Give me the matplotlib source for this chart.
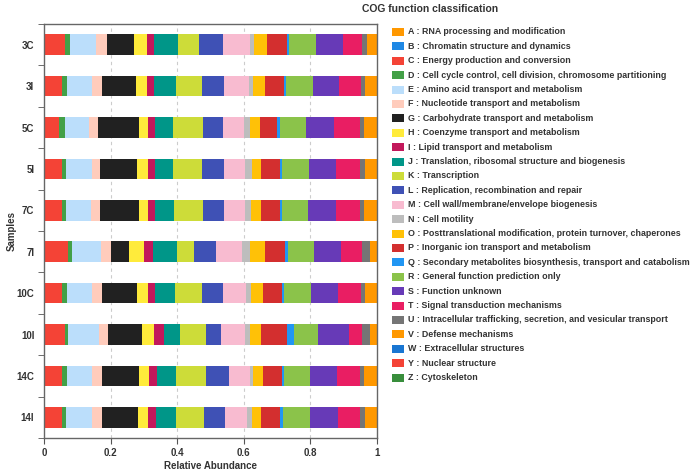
import matplotlib
matplotlib.use("Agg")
import matplotlib.pyplot as plt
from matplotlib.patches import Rectangle
import numpy as np

plt.rcParams['font.family'] = ['Liberation Sans', 'DejaVu Sans']

samples = ['3C', '3I', '5C', '5I', '7C', '7I', '10C', '10I', '14C', '14I']

# relative abundance of each COG class per sample
A = [0.0, 0.0, 0.0, 0.0, 0.0, 0.0, 0.0, 0.0, 0.0, 0.0]
B = [0.0, 0.0, 0.0, 0.0, 0.0, 0.0, 0.0, 0.0, 0.0, 0.0]
C = [0.063, 0.053, 0.046, 0.053, 0.053, 0.073, 0.055, 0.063, 0.053, 0.054]
D = [0.016, 0.015, 0.017, 0.014, 0.013, 0.012, 0.014, 0.009, 0.015, 0.013]
E = [0.077, 0.075, 0.071, 0.076, 0.075, 0.085, 0.076, 0.094, 0.077, 0.078]
F = [0.032, 0.030, 0.027, 0.026, 0.027, 0.030, 0.029, 0.025, 0.030, 0.028]
G = [0.083, 0.103, 0.124, 0.110, 0.116, 0.056, 0.105, 0.104, 0.110, 0.110]
H = [0.037, 0.032, 0.028, 0.032, 0.029, 0.045, 0.032, 0.036, 0.030, 0.028]
I = [0.022, 0.022, 0.021, 0.021, 0.021, 0.027, 0.022, 0.028, 0.023, 0.025]
J = [0.072, 0.066, 0.052, 0.056, 0.057, 0.072, 0.060, 0.049, 0.058, 0.060]
K = [0.064, 0.078, 0.092, 0.087, 0.087, 0.050, 0.081, 0.077, 0.090, 0.084]
L = [0.071, 0.067, 0.059, 0.066, 0.063, 0.068, 0.063, 0.048, 0.069, 0.064]
M = [0.081, 0.075, 0.063, 0.064, 0.063, 0.078, 0.070, 0.070, 0.063, 0.067]
N = [0.013, 0.012, 0.018, 0.019, 0.019, 0.024, 0.016, 0.015, 0.010, 0.013]
O = [0.038, 0.035, 0.030, 0.029, 0.028, 0.045, 0.035, 0.035, 0.030, 0.029]
P = [0.060, 0.057, 0.053, 0.055, 0.057, 0.059, 0.057, 0.077, 0.058, 0.057]
Q = [0.007, 0.008, 0.008, 0.008, 0.006, 0.009, 0.006, 0.020, 0.005, 0.008]
R = [0.082, 0.080, 0.079, 0.080, 0.080, 0.077, 0.080, 0.073, 0.078, 0.082]
S = [0.080, 0.078, 0.082, 0.082, 0.082, 0.083, 0.082, 0.092, 0.082, 0.083]
T = [0.057, 0.065, 0.078, 0.072, 0.074, 0.062, 0.068, 0.041, 0.067, 0.067]
U = [0.015, 0.014, 0.012, 0.013, 0.011, 0.024, 0.014, 0.024, 0.012, 0.013]
V = [0.030, 0.035, 0.040, 0.037, 0.039, 0.021, 0.035, 0.020, 0.040, 0.037]
W = [0.0, 0.0, 0.0, 0.0, 0.0, 0.0, 0.0, 0.0, 0.0, 0.0]
Y = [0.0, 0.0, 0.0, 0.0, 0.0, 0.0, 0.0, 0.0, 0.0, 0.0]
Z = [0.0, 0.0, 0.0, 0.0, 0.0, 0.0, 0.0, 0.0, 0.0, 0.0]

cog_values = [A, B, C, D, E, F, G, H, I, J, K, L, M, N, O, P, Q, R, S, T, U, V, W, Y, Z]

cog_labels = [
    'A : RNA processing and modification',
    'B : Chromatin structure and dynamics',
    'C : Energy production and conversion',
    'D : Cell cycle control, cell division, chromosome partitioning',
    'E : Amino acid transport and metabolism',
    'F : Nucleotide transport and metabolism',
    'G : Carbohydrate transport and metabolism',
    'H : Coenzyme transport and metabolism',
    'I : Lipid transport and metabolism',
    'J : Translation, ribosomal structure and biogenesis',
    'K : Transcription',
    'L : Replication, recombination and repair',
    'M : Cell wall/membrane/envelope biogenesis',
    'N : Cell motility',
    'O : Posttranslational modification, protein turnover, chaperones',
    'P : Inorganic ion transport and metabolism',
    'Q : Secondary metabolites biosynthesis, transport and catabolism',
    'R : General function prediction only',
    'S : Function unknown',
    'T : Signal transduction mechanisms',
    'U : Intracellular trafficking, secretion, and vesicular transport',
    'V : Defense mechanisms',
    'W : Extracellular structures',
    'Y : Nuclear structure',
    'Z : Cytoskeleton',
]

cog_colors = ['#FF9800', '#1E88E5', '#F44336', '#43A047', '#BBDEFB', '#FFCCBC',
              '#212121', '#FFEB3B', '#C2185B', '#009688', '#CDDC39', '#3F51B5',
              '#F8BBD0', '#BDBDBD', '#FFC107', '#D32F2F', '#2196F3', '#8BC34A',
              '#673AB7', '#E91E63', '#757575', '#FF9800', '#1976D2', '#F44336',
              '#388E3C']

fig = plt.figure(figsize=(6.96, 4.71), dpi=100)
ax = fig.add_axes([44 / 696, 33 / 471, 333 / 696, 414 / 471])

ypos = np.arange(len(samples))
left = np.zeros(len(samples))
for vals, col in zip(cog_values, cog_colors):
    vals = np.array(vals)
    ax.barh(ypos, vals, left=left, height=0.5, color=col, linewidth=0, zorder=2)
    left += vals

ax.set_xlim(0, 1)
ax.set_ylim(len(samples) - 0.5, -0.5)
ax.set_xticks([0, 0.2, 0.4, 0.6, 0.8, 1])
ax.set_xticklabels(['0', '0.2', '0.4', '0.6', '0.8', '1'], fontsize=7, fontweight='bold', color='#333333')
ax.set_yticks(ypos)
ax.set_yticklabels(samples, fontsize=7, fontweight='bold', color='#333333')
ax.set_yticks(np.arange(len(samples) + 1) - 0.5, minor=True)
ax.tick_params(axis='y', which='major', length=0, pad=7)
ax.tick_params(axis='y', which='minor', length=4, color='#555555')
ax.tick_params(axis='x', length=4, color='#555555', pad=3)

for x in [0.2, 0.4, 0.6, 0.8]:
    ax.axvline(x, color='#cccccc', linestyle=(0, (3, 3)), linewidth=0.8, zorder=1)

for sp in ax.spines.values():
    sp.set_color('#666666')
    sp.set_linewidth(1)

ax.set_xlabel('Relative Abundance', fontsize=7, fontweight='bold', color='#333333')
ax.xaxis.set_label_coords(0.5, -(461 - 438) / 414)

fig.text(12 / 696, 1 - 231 / 471, 'Samples', fontsize=7, fontweight='bold',
         color='#333333', rotation=90, ha='center', va='center')
fig.text(430 / 696, 1 - 9 / 471, 'COG function classification', fontsize=7.5,
         fontweight='bold', color='#333333', ha='center', va='center')

# legend drawn by hand to match the spacing of the original
W_px, H_px = 696, 471
for i, (lab, col) in enumerate(zip(cog_labels, cog_colors)):
    yc = 32 + i * 14.4
    fig.add_artist(Rectangle((392.5 / W_px, 1 - (yc + 4) / H_px), 12 / W_px, 8 / H_px,
                             transform=fig.transFigure, facecolor=col, edgecolor='none'))
    fig.text(408 / W_px, 1 - yc / H_px, lab, fontsize=6.4, fontweight='bold',
             color='#333333', ha='left', va='center')

fig.savefig('out.png', dpi=100)
